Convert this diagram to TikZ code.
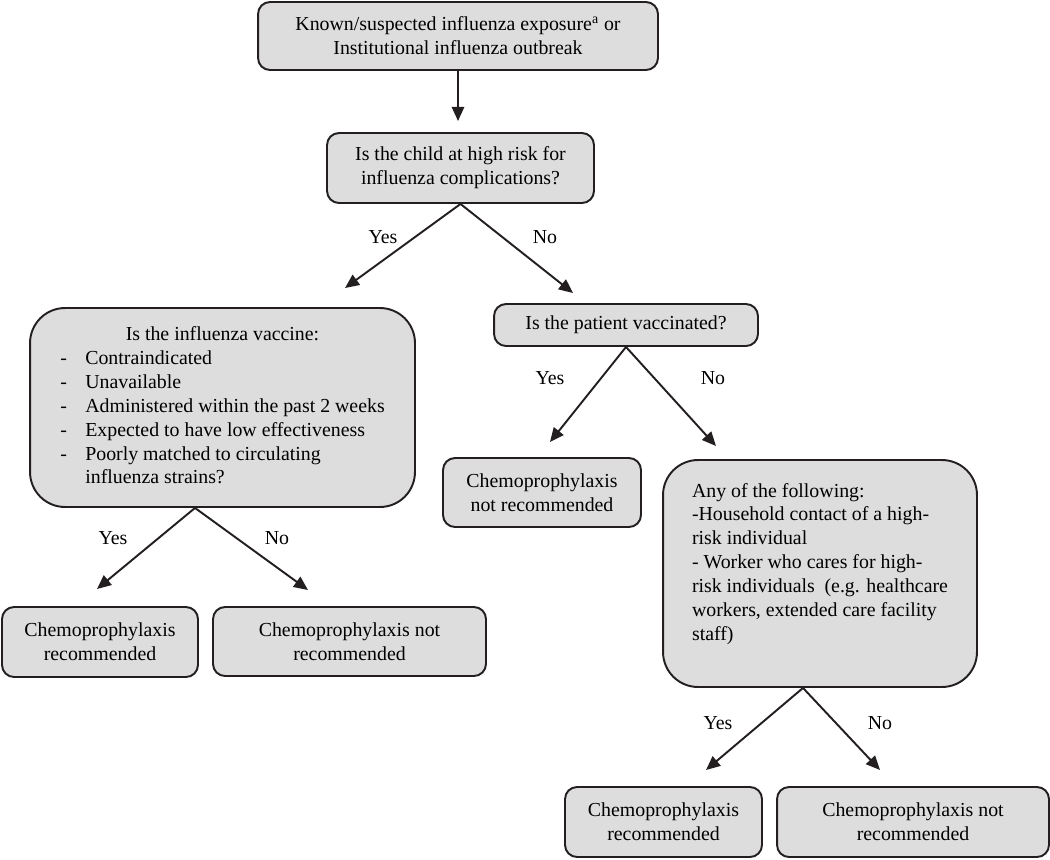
\documentclass[tikz,border=0pt]{standalone}
\usepackage{fontspec}
\setmainfont{Liberation Serif}
\usetikzlibrary{arrows.meta}
\definecolor{boxgray}{RGB}{221,221,222}
\definecolor{ink}{RGB}{35,31,32}

\begin{document}
\begin{tikzpicture}[x=0.02cm,y=-0.02cm,
	font=\fontsize{11.3pt}{13.6pt}\selectfont,
	box/.style={draw=ink, fill=boxgray, line width=1.1pt, rounded corners=0.24cm, align=center, inner sep=0pt},
	bigbox/.style={box, rounded corners=0.7cm},
	arr/.style={draw=ink, line width=1.1pt, -{Triangle[length=8pt,width=7pt]}}]

	\useasboundingbox (0,0) rectangle (1050,859);

	\node[box, minimum width=8cm, minimum height=1.36cm] (expo) at (458,36) {Known/suspected influenza exposure\textsuperscript{a} or\\Institutional influenza outbreak};
	\node[box, minimum width=5.34cm, minimum height=1.4cm] (risk) at (460.5,168) {Is the child at high risk for\\influenza complications?};
	\node[bigbox, minimum width=7.7cm, minimum height=3.98cm] (vacc) at (222.5,407.5) {\begin{tabular}{@{}l@{\hspace{10.5pt}}l@{}}
		\multicolumn{2}{c}{Is the influenza vaccine:}\\
		- & Contraindicated\\
		- & Unavailable\\
		- & Administered within the past 2 weeks\\
		- & Expected to have low effectiveness\\
		- & Poorly matched to circulating\\
		  & influenza strains?
	\end{tabular}};
	\node[box, minimum width=5.28cm, minimum height=0.84cm] (vaccd) at (626,325) {Is the patient vaccinated?};
	\node[box, minimum width=3.96cm, minimum height=1.38cm] (notrec1) at (542,492.5) {Chemoprophylaxis\\not recommended};
	\node[bigbox, minimum width=6.28cm] (anyof) at (820,573.5) {\begin{minipage}[c][4.54cm][t]{5.12cm}\raggedright
		\vspace*{0.46cm}Any of the following:\\
		-Household contact of a high-\\
		risk individual\\
		- Worker who cares for high-\\
		risk individuals~~(e.g. healthcare\\
		workers, extended care facility\\
		staff)
	\end{minipage}};
	\node[box, minimum width=3.92cm, minimum height=1.4cm] (rec1) at (100,642) {Chemoprophylaxis\\recommended};
	\node[box, minimum width=5.46cm, minimum height=1.38cm] (notrec2) at (349.5,641.5) {Chemoprophylaxis not\\recommended};
	\node[box, minimum width=3.94cm, minimum height=1.4cm] (rec2) at (663.5,822) {Chemoprophylaxis\\recommended};
	\node[box, minimum width=5.44cm, minimum height=1.4cm] (notrec3) at (913,822) {Chemoprophylaxis not\\recommended};

	\node (yes1) at (383,237) {Yes};
	\node (no1) at (545,237) {No};
	\node (yes2) at (550,378) {Yes};
	\node (no2) at (713,378) {No};
	\node (yes3) at (113,538) {Yes};
	\node (no3) at (277,538) {No};
	\node (yes4) at (718,723) {Yes};
	\node (no4) at (880,723) {No};

	\coordinate (expo-t) at (458,121);
	\coordinate (risk-y) at (345,288);
	\coordinate (risk-n) at (573,293);
	\coordinate (vaccd-y) at (550,442);
	\coordinate (vaccd-n) at (716,446);
	\coordinate (vacc-y) at (97,589);
	\coordinate (vacc-n) at (308,590);
	\coordinate (any-y) at (706,770);
	\coordinate (any-n) at (880,770);

	\draw[arr] (expo) -- (expo-t);
	\draw[arr] (risk.south) -- (risk-y);
	\draw[arr] (risk.south) -- (risk-n);
	\draw[arr] (vaccd.south) -- (vaccd-y);
	\draw[arr] (vaccd.south) -- (vaccd-n);
	\draw[arr] ([xshift=-0.55cm]vacc.south) -- (vacc-y);
	\draw[arr] ([xshift=-0.55cm]vacc.south) -- (vacc-n);
	\draw[arr] ([xshift=-0.34cm]anyof.south) -- (any-y);
	\draw[arr] ([xshift=-0.34cm]anyof.south) -- (any-n);

\end{tikzpicture}
\end{document}
